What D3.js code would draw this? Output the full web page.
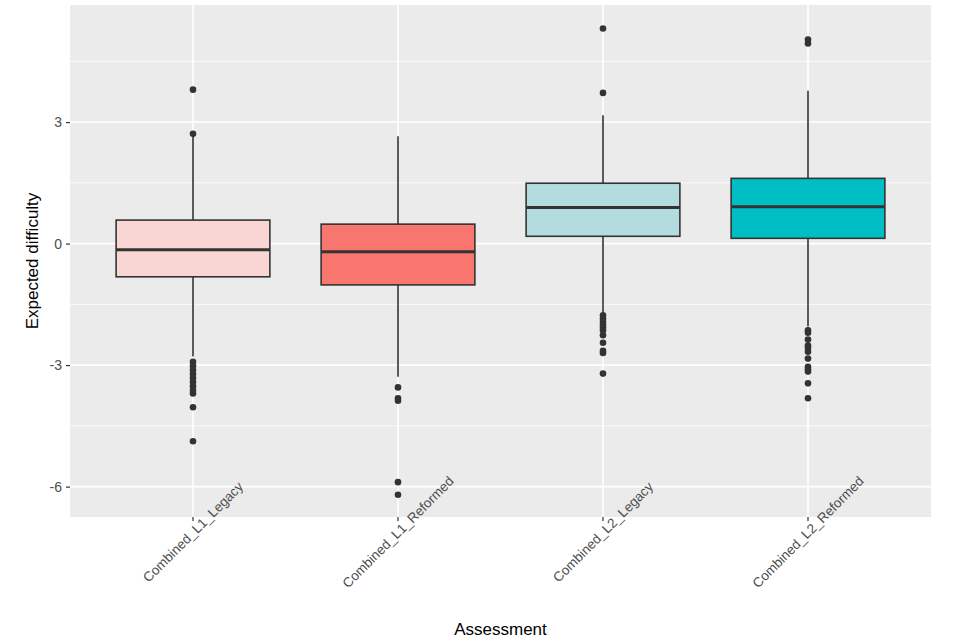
<!DOCTYPE html>
<html lang="en">
<head>
    <meta charset="UTF-8">
    <script src="https://cdn.jsdelivr.net/npm/d3@7"></script>
    <title>Expected difficulty</title>
    <style>
        body { margin: 0; background: #fff; }
        text { font-family: "Liberation Sans", Arial, sans-serif; }
    </style>
</head>
<body>
<div id="chart"></div>
<script>
    // assessments on x axis
    const categories = ['Combined_L1_Legacy', 'Combined_L1_Reformed', 'Combined_L2_Legacy', 'Combined_L2_Reformed']
    // box stats: [lowWhisker, q1, median, q3, highWhisker]
    const lowWhisker = [-2.79, -3.29, -1.72, -2.05]
    const q1 = [-0.82, -1.02, 0.18, 0.13]
    const median = [-0.15, -0.20, 0.89, 0.91]
    const q3 = [0.58, 0.48, 1.49, 1.61]
    const highWhisker = [2.71, 2.65, 3.17, 3.77]
    const outliers = [
        [3.80, 2.71, -2.92, -3.02, -3.12, -3.22, -3.32, -3.42, -3.52, -3.62, -3.70, -4.04, -4.88],
        [-3.55, -3.82, -3.88, -5.89, -6.20],
        [5.31, 3.72, -1.77, -1.85, -1.93, -2.00, -2.07, -2.14, -2.26, -2.45, -2.65, -2.70, -3.21],
        [5.04, 4.94, -2.14, -2.20, -2.37, -2.52, -2.58, -2.67, -2.84, -3.04, -3.10, -3.16, -3.45, -3.82]
    ]
    const yTicks = [3, 0, -3, -6]
    const colors = ['#f9d6d3', '#f8766d', '#b2dcdd', '#00bfc4']

    const W = 960, H = 640
    const m = {left: 70, right: 29, top: 5, bottom: 123}

    const svg = d3.select('#chart').append('svg')
        .attr('width', W).attr('height', H)

    const x = d3.scaleBand()
        .domain(categories)
        .range([m.left, W - m.right])
        .paddingOuter(0.1)
        .paddingInner(0)
    const y = d3.scaleLinear()
        .domain([-6.75, 5.89])
        .range([H - m.bottom, m.top])

    // panel
    svg.append('rect')
        .attr('x', m.left).attr('y', m.top)
        .attr('width', W - m.left - m.right)
        .attr('height', H - m.top - m.bottom)
        .attr('fill', '#ebebeb')

    // minor grid lines half way between ticks
    const minor = d3.range(-7.5, 6, 3).filter(v => v > -6.75 && v < 5.89)
    svg.selectAll('.minor').data(minor).enter().append('line')
        .attr('x1', m.left).attr('x2', W - m.right)
        .attr('y1', d => y(d)).attr('y2', d => y(d))
        .attr('stroke', '#fff').attr('stroke-width', 0.8)
    svg.selectAll('.major').data(yTicks).enter().append('line')
        .attr('x1', m.left).attr('x2', W - m.right)
        .attr('y1', d => y(d)).attr('y2', d => y(d))
        .attr('stroke', '#fff').attr('stroke-width', 1.6)
    svg.selectAll('.vmajor').data(categories).enter().append('line')
        .attr('x1', d => x(d) + x.bandwidth() / 2).attr('x2', d => x(d) + x.bandwidth() / 2)
        .attr('y1', m.top).attr('y2', H - m.bottom)
        .attr('stroke', '#fff').attr('stroke-width', 1.6)

    // boxes
    const bw = x.bandwidth() * 0.75
    const ink = '#333333'
    categories.forEach((c, i) => {
        const cx = x(c) + x.bandwidth() / 2
        const g = svg.append('g')
        g.append('line')
            .attr('x1', cx).attr('x2', cx)
            .attr('y1', y(highWhisker[i])).attr('y2', y(q3[i]))
            .attr('stroke', ink).attr('stroke-width', 1.6)
        g.append('line')
            .attr('x1', cx).attr('x2', cx)
            .attr('y1', y(q1[i])).attr('y2', y(lowWhisker[i]))
            .attr('stroke', ink).attr('stroke-width', 1.6)
        g.append('rect')
            .attr('x', cx - bw / 2).attr('width', bw)
            .attr('y', y(q3[i])).attr('height', y(q1[i]) - y(q3[i]))
            .attr('fill', colors[i]).attr('stroke', ink).attr('stroke-width', 1.6)
        g.append('line')
            .attr('x1', cx - bw / 2).attr('x2', cx + bw / 2)
            .attr('y1', y(median[i])).attr('y2', y(median[i]))
            .attr('stroke', ink).attr('stroke-width', 3)
        g.selectAll('circle').data(outliers[i]).enter().append('circle')
            .attr('cx', cx).attr('cy', d => y(d))
            .attr('r', 3.3).attr('fill', ink)
    })

    // y axis
    const yAxis = svg.append('g')
        .attr('transform', 'translate(' + m.left + ',0)')
        .call(d3.axisLeft(y).tickValues(yTicks).tickFormat(d => String(d)).tickSize(4).tickPadding(4))
    yAxis.select('.domain').remove()
    yAxis.selectAll('line').attr('stroke', '#333').attr('stroke-width', 1.2)
    yAxis.selectAll('text').attr('fill', '#4d4d4d').style('font-size', '14px')
        .style('font-family', '"Liberation Sans", Arial, sans-serif')

    // x ticks and labels
    categories.forEach(c => {
        const cx = x(c) + x.bandwidth() / 2
        svg.append('line')
            .attr('x1', cx).attr('x2', cx)
            .attr('y1', H - m.bottom).attr('y2', H - m.bottom + 4)
            .attr('stroke', '#333').attr('stroke-width', 1.2)
        svg.append('text')
            .attr('transform', 'translate(' + cx + ',' + 532 + ') rotate(-45)')
            .attr('text-anchor', 'middle')
            .attr('dy', '0.35em')
            .attr('fill', '#4d4d4d')
            .style('font-size', '13.5px')
            .text(c)
    })

    // axis titles
    svg.append('text')
        .attr('x', (m.left + W - m.right) / 2).attr('y', 635)
        .attr('text-anchor', 'middle')
        .style('font-size', '17px')
        .text('Assessment')
    svg.append('text')
        .attr('transform', 'translate(38,' + ((m.top + H - m.bottom) / 2) + ') rotate(-90)')
        .attr('text-anchor', 'middle')
        .style('font-size', '17px')
        .text('Expected difficulty')
</script>
</body>
</html>
